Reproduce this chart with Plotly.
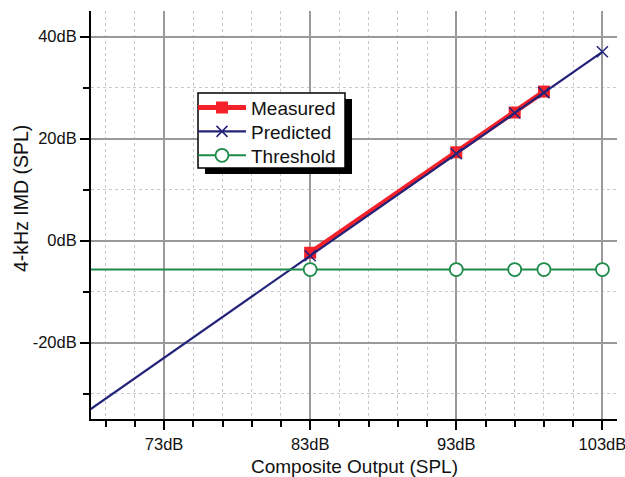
import plotly.graph_objects as go

# Data
composite_db = [83, 93, 97, 99]
measured_db = [-2.4, 17.3, 25.1, 29.2]
predicted_x = [66, 83, 93, 97, 99, 103]
predicted_db = [-37, -3, 17, 25, 29, 37]
threshold_x = [66, 83, 93, 97, 99, 103]
threshold_db = [-5.7, -5.7, -5.7, -5.7, -5.7, -5.7]

x_tick_vals = [73, 83, 93, 103]
x_tick_text = ["73dB", "83dB", "93dB", "103dB"]
y_tick_vals = [-20, 0, 20, 40]
y_tick_text = ["-20dB", "0dB", "20dB", "40dB"]

FONT = "Liberation Sans, Arial, sans-serif"

# plot area in pixels: x 91..617, y 11..419
PL, PR, PT, PB = 91, 617, 11, 419
def px(xp):
    return (xp - PL) / (PR - PL)
def py(yp):
    return (PB - yp) / (PB - PT)

fig = go.Figure()
fig.add_trace(go.Scatter(
    x=composite_db, y=measured_db, name="Measured", mode="lines+markers",
    line=dict(color="#f4202a", width=5),
    marker=dict(symbol="square", size=12, color="#f4202a"),
    legend="legend",
))
fig.add_trace(go.Scatter(
    x=predicted_x, y=predicted_db, name="Predicted", mode="lines+markers",
    line=dict(color="#23237a", width=2.2),
    marker=dict(symbol="x-thin", size=11, line=dict(color="#23237a", width=1.5)),
    legend="legend2",
))
fig.add_trace(go.Scatter(
    x=threshold_x, y=threshold_db, name="Threshold", mode="lines+markers",
    line=dict(color="#1e8a4a", width=2),
    marker=dict(symbol="circle", size=13, color="white", line=dict(color="#1e8a4a", width=1.8)),
    legend="legend3",
))

# legend frame with drop shadow
fig.add_shape(type="rect", xref="paper", yref="paper",
              x0=px(205), x1=px(352), y0=py(174), y1=py(99),
              fillcolor="black", line=dict(width=0), layer="above")
fig.add_shape(type="rect", xref="paper", yref="paper",
              x0=px(198), x1=px(345), y0=py(168), y1=py(93),
              fillcolor="white", line=dict(color="black", width=1.5), layer="above")

def leg(row_y):
    return dict(
        x=px(193), y=py(row_y), xanchor="left", yanchor="middle",
        bgcolor="rgba(0,0,0,0)", borderwidth=0,
        font=dict(family=FONT, size=19, color="#111111"),
        itemwidth=48,
    )

fig.update_layout(
    width=625, height=477,
    margin=dict(l=PL, r=625 - PR, t=PT, b=477 - PB, autoexpand=False),
    paper_bgcolor="white", plot_bgcolor="white",
    font=dict(family=FONT, color="#111111", size=16.5),
    showlegend=True,
    legend=leg(107.7),
    legend2=leg(131.5),
    legend3=leg(155.5),
    xaxis=dict(
        range=[68, 104], tickmode="array", tickvals=x_tick_vals, ticktext=x_tick_text,
        automargin=False, ticklabeloverflow="allow",
        showline=True, linecolor="black", linewidth=2,
        ticks="outside", ticklen=9, tickwidth=1.5, tickcolor="black",
        showgrid=True, gridcolor="#9a9a9a", gridwidth=1.5,
        zeroline=False,
        tickfont=dict(size=16.5),
        minor=dict(tick0=73, dtick=2, ticks="outside", ticklen=6, tickcolor="black", tickwidth=1.5,
                   showgrid=True, gridcolor="#c8c8c8", griddash="dot", gridwidth=1),
    ),
    yaxis=dict(
        range=[-35, 45], tickmode="array", tickvals=y_tick_vals, ticktext=y_tick_text,
        automargin=False,
        showline=True, linecolor="black", linewidth=2,
        ticks="outside", ticklen=9, tickwidth=1.5, tickcolor="black",
        showgrid=True, gridcolor="#9a9a9a", gridwidth=1.5,
        zeroline=False,
        tickfont=dict(size=16.5),
        minor=dict(tick0=0, dtick=10, ticks="outside", ticklen=6, tickcolor="black", tickwidth=1.5,
                   showgrid=True, gridcolor="#c8c8c8", griddash="dot", gridwidth=1),
    ),
    annotations=[
        dict(text="4-kHz IMD (SPL)", textangle=-90, showarrow=False,
             xref="paper", yref="paper", x=px(21), y=py(199),
             xanchor="center", yanchor="middle",
             font=dict(family=FONT, size=19.5, color="#111111")),
        dict(text="Composite Output (SPL)", showarrow=False,
             xref="paper", yref="paper", x=px(354), y=py(466),
             xanchor="center", yanchor="middle",
             font=dict(family=FONT, size=19, color="#111111")),
    ],
)

fig.write_html("out.html", config={"displayModeBar": False},
               post_script="document.body.style.margin='0';document.body.style.padding='0';")
